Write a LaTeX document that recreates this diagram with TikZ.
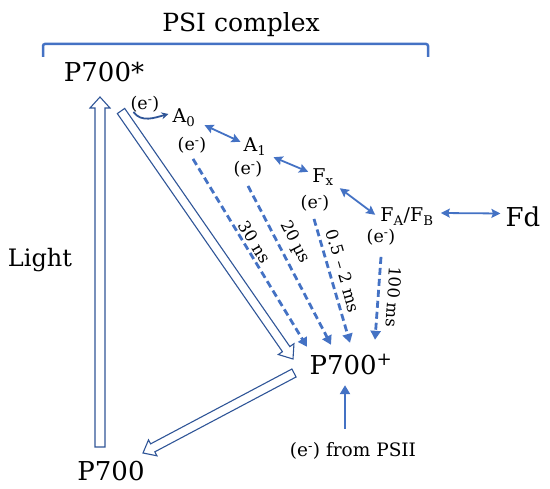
\documentclass[tikz,border=0pt]{standalone}
\usepackage{fontspec}
\setmainfont{DejaVu Serif}
\usetikzlibrary{arrows.meta,calc}
\definecolor{lb}{RGB}{68,114,196}
\definecolor{db}{RGB}{47,85,151}
% hollow block arrow: start, tip, half shaft width, half head width, head length
\newcommand\hollowarr[5]{%
  \draw[hol] let \p1=(#1), \p2=(#2),
    \n1={atan2(\y2-\y1,\x2-\x1)}, \n2={veclen(\x2-\x1,\y2-\y1)} in
    ($(\p1)+({\n1+90}:#3)$)
    -- ($(\p1)+({\n1}:{\n2-#5})+({\n1+90}:#3)$)
    -- ($(\p1)+({\n1}:{\n2-#5})+({\n1+90}:#4)$)
    -- (\p2)
    -- ($(\p1)+({\n1}:{\n2-#5})+({\n1-90}:#4)$)
    -- ($(\p1)+({\n1}:{\n2-#5})+({\n1-90}:#3)$)
    -- ($(\p1)+({\n1-90}:#3)$) -- cycle;}
\tikzset{
  hol/.style={draw=db, line width=1.1pt, line join=miter},
  txt/.style={inner sep=0pt, anchor=base, text=black},
  big/.style={txt, font=\fontsize{26}{28}\selectfont, text height=19pt, text depth=0pt},
  med/.style={txt, font=\fontsize{19}{21}\selectfont, text height=12pt, text depth=4pt},
  elbl/.style={txt, font=\fontsize{17.5}{19}\selectfont},
  rlbl/.style={inner sep=1pt, font=\fontsize{16.5}{18}\selectfont, text=black},
  dasharr/.style={lb, line width=2.8pt, dash pattern=on 7pt off 4pt, -{Triangle[length=9pt,width=10pt]}},
  dblarr/.style={lb, line width=1.8pt, {Stealth[length=9pt,width=9pt,inset=1.5pt]}-{Stealth[length=9pt,width=9pt,inset=1.5pt]}},
  solarr/.style={lb, line width=2.8pt, -{Triangle[length=9pt,width=10pt]}},
}
\begin{document}
\begin{tikzpicture}[x=1pt,y=1pt]
\useasboundingbox (0,0) rectangle (550,-489);
% bracket
\draw[lb, line width=2.5pt, rounded corners=2pt] (43,-57) -- (43,-44) -- (428,-44) -- (428,-57);
\node[txt, font=\fontsize{25}{27}\selectfont] (psi) at (241,-32) {PSI complex};
% main nodes
\node[big] (Ps) at (104,-82) {P700*};
\node[big] (Pp) at (351,-375) {P700\textsuperscript{+}};
\node[big] (P) at (111,-481) {P700};
\node[txt, font=\fontsize{24}{26}\selectfont] (light) at (40,-267) {Light};
\node[big] (Fd) at (523,-227) {Fd};
\node[med] (A0) at (184,-123) {A\textsubscript{0}};
\node[med] (A1) at (255,-152) {A\textsubscript{1}};
\node[med] (Fx) at (323,-183) {F\textsubscript{x}};
\node[med] (FA) at (407,-222) {F\textsubscript{A}/F\textsubscript{B}};
% electron labels
\node[elbl] (e1) at (145,-110) {(e\textsuperscript{-})};
\node[elbl] (e2) at (192,-151) {(e\textsuperscript{-})};
\node[elbl] (e3) at (248,-175) {(e\textsuperscript{-})};
\node[elbl] (e4) at (315,-209) {(e\textsuperscript{-})};
\node[elbl] (e5) at (381,-243) {(e\textsuperscript{-})};
\node[txt, font=\fontsize{18.5}{20}\selectfont] (e6) at (353,-457) {(e\textsuperscript{-}) from PSII};
% hollow arrows
\coordinate (L0) at (100,-447); \coordinate (L1) at (100,-97);
\coordinate (D0) at (121,-111); \coordinate (D1) at (293,-359);
\coordinate (R0) at (294,-373); \coordinate (R1) at (143,-453);
\hollowarr{L0}{L1}{5pt}{10pt}{11pt}
\hollowarr{D0}{D1}{4.5pt}{9.5pt}{12pt}
\hollowarr{R0}{R1}{4.5pt}{9pt}{11pt}
% curved arrow
\draw[db, line width=1.8pt, -{Stealth[length=7pt,width=7pt]}]
  ($(e1.south west)+(3,1)$) to[out=-55,in=195] ($(A0.west)+(-4,5)$);
% double arrows
\draw[dblarr] ($(A0.south east)+(9,2)$) -- ($(A1.north west)+(-3,-2)$);
\draw[dblarr] ($(A1.south east)+(7,-1)$) -- ($(Fx.north west)+(-4,-1)$);
\draw[dblarr] ($(Fx.south east)+(6,-1)$) -- ($(FA.north west)+(-5,-5)$);
\draw[dblarr] ($(FA.east)+(7,5)$) -- ($(Fd.west)+(-5,4)$);
% dashed decay arrows
\draw[dasharr] ($(e2.south)+(1,-5)$) -- ($(Pp.north)+(-44,9)$)
  node[rlbl, pos=0.47, sloped, above=1pt] {30 ns};
\draw[dasharr] ($(e3.south)+(0,-8)$) -- ($(Pp.north)+(-20,11)$)
  node[rlbl, pos=0.40, sloped, above=5.5pt] {20 µs};
\draw[dasharr] ($(e4.south)+(-1,-7)$) -- ($(Pp.north)+(-1,13)$)
  node[rlbl, pos=0.45, sloped, above=5pt] {0.5 – 2 ms};
\draw[dasharr] ($(e5.south)+(0,-11)$) -- ($(Pp.north)+(24,16)$)
  node[rlbl, pos=0.47, sloped, allow upside down, above=7pt] {100 ms};
% from PSII
\draw[solarr] ($(e6.north)+(-8,14)$) -- ($(Pp.south)+(-6,-10)$);
\end{tikzpicture}
\end{document}
